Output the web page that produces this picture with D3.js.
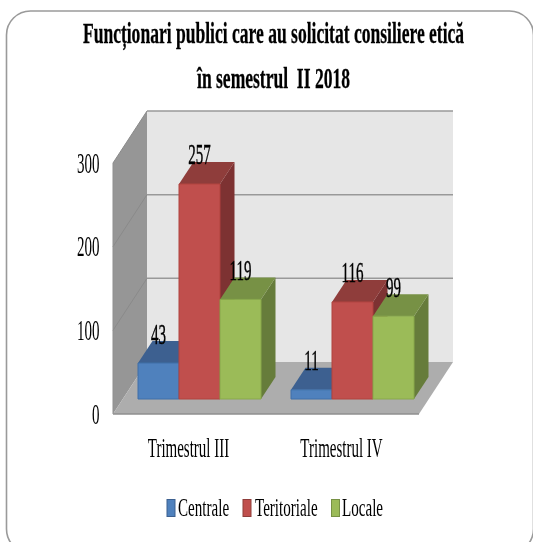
<!DOCTYPE html>
<html><head><meta charset="utf-8">
<script src="https://cdn.jsdelivr.net/npm/d3@7"></script>
<style>html,body{margin:0;padding:0;background:#fff;overflow:hidden}svg{display:block}text{font-family:"Liberation Serif",serif;fill:#000}</style>
</head><body><svg id="c" width="533" height="542"></svg>
<script>
const categories = ["Trimestrul III", "Trimestrul IV"];
const seriesNames = ["Centrale", "Teritoriale", "Locale"];
const centrale = [43, 11];
const teritoriale = [257, 116];
const locale = [119, 99];
const seriesValues = [centrale, teritoriale, locale];
const tickValues = [0, 100, 200, 300];
const titleLines = ["Funcționari publici care au solicitat consiliere etică", "în semestrul  II 2018"];
const colors = [
  {front:"#4f81bd", top:"#3c6190", side:"#2f4d73", edge:"#3f6ea8"},
  {front:"#c0504d", top:"#8f3c3a", side:"#7d3130", edge:"#b0423f"},
  {front:"#9bbb59", top:"#779145", side:"#667c3a", edge:"#88a84a"}
];

const svg = d3.select("#c");
const defs = svg.append("defs");
defs.append("filter").attr("id","soft").attr("x","-5%").attr("y","-5%").attr("width","110%").attr("height","110%")
  .append("feGaussianBlur").attr("stdDeviation",0.5);
const root = svg.append("g").attr("filter","url(#soft)");

root.append("rect").attr("x",6.5).attr("y",11).attr("width",527).attr("height",542).attr("rx",24)
  .attr("fill","#fff").attr("stroke","#9a9a9a").attr("stroke-width",1.6);

// scales: front plane of the 3D box
const frontBottom = 414, frontTop = 163, left = 113, right = 419;
const depthX = 34, depthY = -52;
const y = d3.scaleLinear().domain([0,300]).range([frontBottom, frontTop]);
const h = v => frontBottom - y(v);

// walls
const poly = (pts, fill, stroke) => root.append("polygon").attr("points", pts.map(p=>p.join(",")).join(" "))
  .attr("fill",fill).attr("stroke",stroke||"none").attr("stroke-width",1);
poly([[left+depthX,y(300)+depthY],[right+depthX,y(300)+depthY],[right+depthX,y(0)+depthY],[left+depthX,y(0)+depthY]],"#e6e6e6");
poly([[left,y(300)],[left+depthX,y(300)+depthY],[left+depthX,y(0)+depthY],[left,y(0)]],"#969696");
poly([[left,y(0)],[left+depthX,y(0)+depthY],[right+depthX,y(0)+depthY],[right,y(0)]],"#adadad");

// gridlines
tickValues.filter(d=>d>0).forEach(d=>{
  root.append("path").attr("fill","none").attr("stroke","#8a8a8a").attr("stroke-width",1)
    .attr("d",d3.line()([[left,y(d)],[left+depthX,y(d)+depthY]]));
  root.append("path").attr("fill","none").attr("stroke","#999").attr("stroke-width",1.5)
    .attr("d",d3.line()([[left+depthX,y(d)+depthY],[right+depthX,y(d)+depthY]]));
});
root.append("path").attr("fill","none").attr("stroke","#8f8f8f").attr("stroke-width",1.4)
  .attr("d",d3.line()([[left,y(0)],[right,y(0)]]));
root.append("path").attr("fill","none").attr("stroke","#8f8f8f").attr("stroke-width",1)
  .attr("d",d3.line()([[left,y(0)],[left,y(300)]]));

// text helper: the reference type is strongly condensed
const condensed = (sel, sx, x, yy) => sel.attr("transform",`translate(${x},${yy}) scale(${sx},1)`);

// tick labels
tickValues.forEach(d=>{
  condensed(root.append("text").text(d).attr("text-anchor","end").attr("font-size",30).attr("fill","#222"), 0.5, 99.5, y(d)+9.8);
});

// bars
const barBase = 399, barDX = 14.5, barDY = -22;
const x0 = d3.scaleBand().domain(categories).range([138, 414]).paddingInner(30/153).paddingOuter(0);
const x1 = d3.scaleBand().domain(seriesNames).range([0, x0.bandwidth()]);
const by = v => barBase - h(v);

categories.forEach((cat,ci)=>{
  seriesNames.forEach((s,si)=>{
    const v = seriesValues[si][ci], c = colors[si];
    const xa = x0(cat)+x1(s), xb = xa + x1.bandwidth(), t = by(v);
    poly([[xb,t],[xb+barDX,t+barDY],[xb+barDX,barBase+barDY],[xb,barBase]], c.side);
    poly([[xa,t],[xa+barDX,t+barDY],[xb+barDX,t+barDY],[xb,t]], c.top);
    poly([[xa,t],[xb,t],[xb,barBase],[xa,barBase]], c.front, c.edge);
  });
});
// labels on top so that they overlap the bars
categories.forEach((cat,ci)=>{
  seriesNames.forEach((s,si)=>{
    const v = seriesValues[si][ci];
    const lx = x0(cat)+x1(s) + x1.bandwidth()/2;
    condensed(root.append("text").text(v).attr("text-anchor","middle").attr("font-size",30)
      .attr("stroke","#000").attr("stroke-width",0.45), 0.5, lx, by(v)-19.5);
  });
  condensed(root.append("text").text(cat).attr("text-anchor","middle").attr("font-size",27).attr("fill","#222"), 0.555,
    x0(cat)+x0.bandwidth()/2-11, 456.5);
});

// title
titleLines.forEach((t,i)=>{
  condensed(root.append("text").text(t).attr("text-anchor","middle").attr("font-size",29).attr("font-weight","bold")
    .attr("stroke","#000").attr("stroke-width",0.3).style("white-space","pre"),
    0.605, 273.5, 42.5+i*45.5);
});

// legend
const legendX = [167, 243, 331.5], textX = [178, 255, 342];
seriesNames.forEach((s,i)=>{
  root.append("rect").attr("x",legendX[i]).attr("y",499.5).attr("width",8).attr("height",17)
    .attr("fill",colors[i].front).attr("stroke",colors[i].top).attr("stroke-width",1);
  condensed(root.append("text").text(s).attr("font-size",26).attr("fill","#222"),0.58,textX[i],516);
});
</script></body></html>
